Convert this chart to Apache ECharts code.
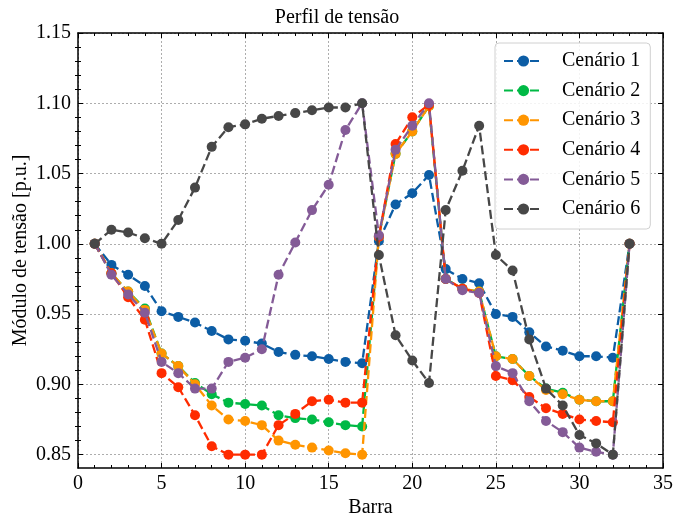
<!DOCTYPE html>
<html>
<head>
<meta charset="utf-8">
<script src="https://cdn.jsdelivr.net/npm/echarts@6/dist/echarts.min.js"></script>
<style>
html,body{margin:0;padding:0;background:#fff;}
#chart{width:674px;height:515px;}
</style>
</head>
<body>
<div id="chart"></div>
<script>
const barras = [1,2,3,4,5,6,7,8,9,10,11,12,13,14,15,16,17,18,19,20,21,22,23,24,25,26,27,28,29,30,31,32,33];
const seriesNames = ['Cenário 1','Cenário 2','Cenário 3','Cenário 4','Cenário 5','Cenário 6'];
const cenario1 = [1.000,0.985,0.978,0.970,0.952,0.948,0.944,0.938,0.932,0.931,0.929,0.923,0.921,0.920,0.918,0.916,0.915,1.002,1.028,1.036,1.049,0.982,0.975,0.972,0.950,0.948,0.937,0.927,0.924,0.920,0.920,0.919,1.000];
const cenario2 = [1.000,0.979,0.966,0.954,0.922,0.913,0.901,0.893,0.887,0.886,0.885,0.878,0.876,0.875,0.873,0.871,0.870,1.005,1.064,1.080,1.098,0.975,0.968,0.966,0.920,0.918,0.906,0.897,0.894,0.889,0.888,0.888,1.000];
const cenario3 = [1.000,0.979,0.966,0.953,0.922,0.913,0.900,0.885,0.875,0.874,0.871,0.860,0.857,0.855,0.853,0.851,0.850,1.005,1.064,1.080,1.098,0.975,0.968,0.966,0.920,0.918,0.906,0.896,0.893,0.889,0.888,0.888,1.000];
const cenario4 = [1.000,0.979,0.962,0.946,0.908,0.898,0.878,0.856,0.850,0.850,0.850,0.871,0.879,0.888,0.889,0.887,0.887,1.005,1.071,1.090,1.099,0.975,0.968,0.965,0.906,0.903,0.891,0.883,0.879,0.875,0.874,0.873,1.000];
const cenario5 = [1.000,0.978,0.964,0.951,0.916,0.908,0.897,0.897,0.916,0.919,0.925,0.978,1.001,1.024,1.042,1.081,1.100,1.006,1.067,1.084,1.100,0.975,0.967,0.965,0.913,0.908,0.888,0.874,0.866,0.855,0.852,0.850,1.000];
const cenario6 = [1.000,1.010,1.008,1.004,1.000,1.017,1.040,1.069,1.083,1.085,1.089,1.091,1.093,1.095,1.097,1.097,1.100,0.992,0.935,0.917,0.901,1.024,1.052,1.084,0.992,0.981,0.932,0.897,0.885,0.864,0.858,0.850,1.000];
const yMajorTicks = [0.85,0.90,0.95,1.00,1.05,1.10,1.15];
const yMinorTicks = [0.86,0.87,0.88,0.89,0.91,0.92,0.93,0.94,0.96,0.97,0.98,0.99,1.01,1.02,1.03,1.04,1.06,1.07,1.08,1.09,1.11,1.12,1.13,1.14];
const colors = ['#0C5DA5','#00B945','#FF9500','#FF2C00','#845B97','#474747'];

const allValues = [cenario1,cenario2,cenario3,cenario4,cenario5,cenario6];
const FONT = '"Liberation Serif","Times New Roman",serif';
const Y_MIN = 0.8405, Y_MAX = 1.15;

const chart = echarts.init(document.getElementById('chart'), null, {renderer:'canvas'});

const axisLine = {show:true, onZero:false, lineStyle:{color:'#000', width:1.5}};
const majorTick = {show:true, inside:true, length:5, lineStyle:{color:'#000', width:1}};
const minorTickStyle = {show:true, splitNumber:5, length:3, lineStyle:{color:'#000', width:1}};

const option = {
  animation:false,
  backgroundColor:'#fff',
  textStyle:{fontFamily:FONT},
  title:{
    text:'Perfil de tensão', left:'center', top:8, padding:0,
    textStyle:{fontFamily:FONT, fontSize:20, fontWeight:'normal', color:'#000'}
  },
  grid:{left:78, right:11, top:33, bottom:47, containLabel:false, outerBoundsMode:'none'},
  legend:{
    orient:'vertical', left:495, top:43,
    padding:[8,10,10,8],
    itemWidth:39, itemHeight:14, itemGap:9.6,
    backgroundColor:'rgba(255,255,255,0.85)',
    borderColor:'#d0d0d0', borderWidth:1, borderRadius:4,
    textStyle:{fontFamily:FONT, fontSize:20, color:'#000', padding:[0,0,0,14]},
    data:seriesNames
  },
  xAxis:[
    {type:'value', position:'bottom', min:0, max:35, interval:5,
     name:'Barra', nameLocation:'middle', nameGap:30, nameMoveOverlap:false,
     nameTextStyle:{fontFamily:FONT, fontSize:20, color:'#000'},
     axisLine:axisLine, axisTick:majorTick, minorTick:minorTickStyle,
     axisLabel:{show:true, margin:6, fontFamily:FONT, fontSize:20, color:'#000'},
     splitLine:{show:true, lineStyle:{color:'#999', width:0.8, type:[2,2]}}},
    {type:'value', position:'top', min:0, max:35, interval:5,
     axisLine:axisLine, axisTick:majorTick, minorTick:minorTickStyle,
     axisLabel:{show:false}, splitLine:{show:false}}
  ],
  yAxis:[
    {type:'value', position:'left', min:Y_MIN, max:Y_MAX,
     name:'Módulo de tensão [p.u.]', nameLocation:'middle', nameGap:47, nameMoveOverlap:false,
     nameTextStyle:{fontFamily:FONT, fontSize:20, color:'#000'},
     axisLine:axisLine,
     axisTick:Object.assign({}, majorTick, {customValues:yMajorTicks}),
     axisLabel:{show:true, margin:7, fontFamily:FONT, fontSize:20, color:'#000',
       customValues:yMajorTicks, formatter:v=>v.toFixed(2)},
     splitLine:{show:true, lineStyle:{color:'#999', width:0.8, type:[2,2]}}},
    {type:'value', position:'right', min:Y_MIN, max:Y_MAX,
     axisLine:axisLine,
     axisTick:Object.assign({}, majorTick, {customValues:yMajorTicks}),
     axisLabel:{show:false}, splitLine:{show:false}},
    {type:'value', position:'left', min:Y_MIN, max:Y_MAX,
     axisLine:{show:false},
     axisTick:{show:true, inside:true, length:3, customValues:yMinorTicks, lineStyle:{color:'#000', width:1}},
     axisLabel:{show:false}, splitLine:{show:false}},
    {type:'value', position:'right', min:Y_MIN, max:Y_MAX,
     axisLine:{show:false},
     axisTick:{show:true, inside:true, length:3, customValues:yMinorTicks, lineStyle:{color:'#000', width:1}},
     axisLabel:{show:false}, splitLine:{show:false}}
  ],
  series: seriesNames.map((name,i)=>({
    name:name, type:'line', xAxisIndex:0, yAxisIndex:0,
    data: barras.map((b,j)=>[b, allValues[i][j]]),
    symbol:'circle', symbolSize:10, showSymbol:true,
    color:colors[i],
    lineStyle:{color:colors[i], width:2.3, type:[9,4]},
    itemStyle:{color:colors[i]},
    z:2+i
  }))
};
chart.setOption(option);
</script>
</body>
</html>
